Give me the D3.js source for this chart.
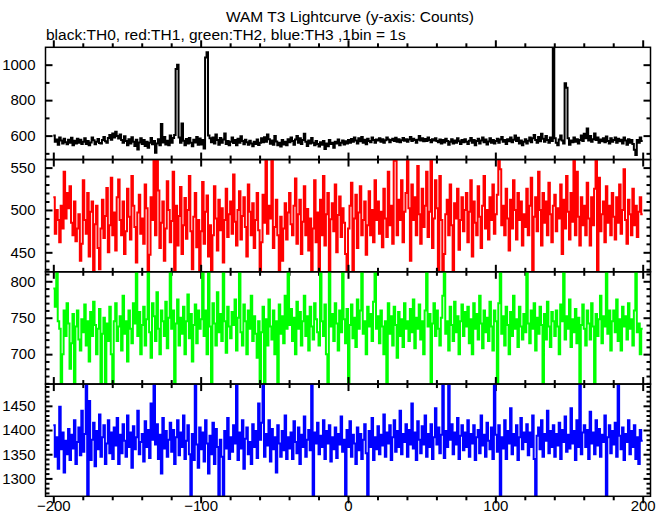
<!DOCTYPE html>
<html><head><meta charset="utf-8">
<script src="https://cdn.jsdelivr.net/npm/d3@7"></script>
<style>body{margin:0;background:#fff}text{font-family:"Liberation Sans",Arial,Helvetica,sans-serif}</style>
</head><body>
<svg id="c" width="669" height="515"></svg>
<script>
const titleText = "WAM T3 Lightcurve (y-axis: Counts)";
const subtitleText = "black:TH0, red:TH1, green:TH2, blue:TH3 ,1bin = 1s";
const timeStart = -200;
const xTickLabels = [-200, -100, 0, 100, 200];

const th0 = [
600,565,578,548,590,572,556,583,562,551,577,560,588,546,571,555,582,560,576,552,
566,585,553,570,546,561,590,574,551,566,581,559,556,575,592,568,560,586,604,577,
612,590,622,598,584,606,575,560,596,570,546,580,555,591,566,541,576,522,561,585,
552,575,541,566,532,560,586,551,570,503,556,580,546,665,561,592,550,571,546,601,
560,586,604,975,1000,589,560,668,571,546,581,555,587,560,540,576,561,592,548,584,
550,575,528,1040,1070,600,585,562,590,555,606,575,548,586,560,578,612,552,570,545,
565,590,558,575,545,583,560,596,570,551,576,562,548,571,556,540,566,552,578,547,
560,585,562,591,566,606,580,554,572,548,598,567,545,560,538,575,550,566,545,580,
562,590,570,548,578,598,560,585,553,575,610,566,542,572,556,587,560,545,570,552,
538,562,548,570,524,556,540,575,552,560,531,566,555,578,546,560,572,550,568,556,
575,560,581,566,590,572,556,585,568,592,560,576,551,583,570,562,589,575,560,578,
572,585,566,580,560,574,590,578,562,575,583,570,588,566,579,562,574,586,571,580,
565,578,592,570,583,575,560,576,598,572,585,568,581,570,590,575,563,580,572,585,
570,562,578,556,575,561,583,570,548,566,579,555,572,560,585,568,553,575,562,580,
566,552,571,586,560,575,545,569,582,556,573,590,562,578,550,567,585,560,575,555,
570,583,560,578,592,566,575,552,580,568,590,562,577,600,570,588,556,572,545,565,
580,556,571,590,562,585,604,575,560,592,568,610,583,566,598,575,560,590,570,1150,
585,560,545,578,600,572,555,895,870,585,548,572,562,590,566,580,556,575,600,570,
610,585,640,572,598,565,580,612,575,590,560,578,568,585,562,595,570,556,585,566,
575,590,560,582,568,576,555,590,572,548,580,560,575,552,520,490,575,560,590,570];

const th1 = [
515,472,500,488,462,505,478,545,490,520,502,528,485,470,510,463,478,495,440,460,
535,488,472,520,445,498,510,420,483,505,455,430,478,512,467,493,526,450,482,538,
470,497,452,515,536,488,470,510,448,475,525,492,465,540,505,480,438,497,518,472,
490,460,530,502,420,447,515,488,560,470,565,523,455,485,510,440,478,534,500,462,
487,545,420,505,458,493,527,448,482,514,466,500,540,475,430,492,520,456,488,420,
475,533,460,498,517,445,482,420,470,528,490,452,512,476,502,438,488,525,468,495,
510,472,542,486,458,500,522,465,493,515,480,445,530,498,470,508,455,488,520,476,
420,462,518,485,560,472,505,490,565,455,480,512,470,420,492,440,478,508,465,497,
520,483,470,505,537,460,495,512,448,486,528,470,501,452,490,420,478,535,462,497,
420,512,470,540,458,495,520,420,489,508,475,530,450,494,516,468,502,485,448,420,
478,505,532,420,490,518,455,497,528,470,488,510,447,482,522,470,500,462,535,488,
510,472,498,456,525,490,468,545,482,505,460,565,558,470,512,488,535,462,498,520,
565,502,440,530,488,515,470,552,495,460,525,480,505,545,468,498,565,455,490,535,
502,420,540,488,420,448,495,512,470,530,482,420,508,490,525,453,488,515,475,500,
520,462,498,535,445,510,485,470,528,492,455,505,540,478,500,465,515,488,530,472,
495,518,565,548,482,505,470,525,490,452,512,478,535,500,465,520,488,510,458,495,
480,525,470,505,538,420,492,515,475,545,500,458,520,485,510,470,532,495,462,505,
518,475,502,490,530,448,512,478,540,498,465,520,486,565,470,545,492,458,515,482,
505,470,532,490,458,515,482,525,565,420,538,475,495,510,462,528,485,505,470,520,
492,465,515,485,530,472,500,548,488,460,512,495,470,525,482,505,468,498,515,495];

const th2 = [
790,765,820,745,735,650,700,760,725,770,742,680,715,755,650,738,760,720,705,748,
730,768,712,745,690,758,725,772,740,700,735,762,650,728,750,650,742,718,765,700,
650,745,770,718,738,752,705,780,728,745,690,760,735,715,770,742,820,725,758,700,
740,765,712,748,820,730,695,770,752,718,785,735,700,760,745,725,772,708,750,820,
735,760,650,742,775,712,750,728,765,700,745,782,722,755,690,740,768,715,760,735,
748,820,725,760,700,820,738,650,770,742,712,785,730,755,718,820,745,702,765,738,
722,758,740,775,705,750,820,730,712,768,745,700,760,735,780,718,752,728,695,745,
650,730,765,650,748,712,775,738,720,760,700,745,650,768,728,752,715,780,735,820,
740,762,718,750,700,772,735,758,712,745,780,725,752,705,765,738,720,770,748,730,
712,820,745,725,768,700,650,820,738,755,718,770,742,705,760,730,820,748,715,762,
650,740,768,722,750,710,775,735,760,820,728,745,700,765,738,755,718,772,820,735,
752,715,760,738,700,745,650,770,728,752,712,765,740,695,758,725,748,710,770,735,
745,718,762,730,775,708,750,735,768,720,745,700,760,820,738,755,650,742,770,725,
760,735,712,750,780,820,728,745,705,765,740,718,772,730,752,700,745,768,725,758,
738,765,715,748,700,770,735,755,720,780,742,708,760,730,750,718,772,738,705,760,
745,650,770,820,728,752,712,765,740,700,758,725,780,735,748,710,765,738,720,755,
730,820,742,715,760,735,770,705,750,728,765,740,650,755,720,772,738,710,758,745,
725,760,738,700,768,745,820,720,752,735,775,710,748,730,762,715,750,650,740,768,
735,712,760,742,720,770,738,650,755,725,748,780,715,752,738,820,728,760,705,745,
760,730,775,718,748,705,765,738,752,720,770,735,748,712,760,820,730,742,700,735];

const th3 = [
1410,1345,1385,1320,1448,1360,1395,1312,1378,1350,1402,1338,1390,1362,1420,1330,1375,1405,1348,1440,
1355,1392,1510,1250,1460,1338,1380,1415,1325,1398,1360,1432,1345,1385,1410,1330,1372,1420,1352,1395,
1340,1405,1368,1425,1330,1390,1352,1412,1378,1345,1430,1365,1395,1322,1408,1360,1385,1440,1350,1375,
1392,1335,1418,1365,1400,1342,1455,1380,1510,1370,1412,1340,1390,1310,1425,1362,1398,1345,1380,1415,
1355,1400,1330,1385,1420,1348,1395,1365,1430,1340,1378,1410,1350,1250,1392,1338,1510,1370,1322,1405,
1360,1395,1335,1420,1372,1310,1388,1350,1415,1330,1402,1365,1250,1380,1345,1250,1398,1362,1425,1340,
1385,1355,1410,1372,1510,1338,1395,1362,1420,1320,1382,1405,1350,1375,1330,1412,1365,1398,1342,1455,
1380,1415,1510,1345,1392,1368,1420,1335,1402,1360,1385,1312,1410,1372,1345,1398,1358,1430,1340,1385,
1362,1395,1340,1418,1375,1352,1405,1330,1390,1365,1428,1345,1380,1400,1358,1510,1250,1395,1372,1415,
1350,1388,1365,1420,1340,1398,1372,1410,1335,1385,1360,1405,1342,1392,1370,1428,1355,1380,1250,1400,
1365,1418,1345,1390,1372,1330,1405,1358,1392,1340,1380,1412,1352,1250,1398,1365,1425,1338,1385,1360,
1408,1350,1390,1368,1432,1345,1395,1372,1410,1338,1385,1420,1355,1398,1365,1440,1350,1392,1375,1412,
1345,1400,1370,1455,1362,1395,1338,1418,1380,1352,1408,1370,1430,1345,1392,1365,1412,1340,1385,1445,
1370,1405,1352,1390,1510,1342,1398,1365,1510,1380,1412,1350,1395,1370,1425,1340,1388,1410,1358,1395,
1365,1420,1345,1392,1372,1410,1338,1385,1400,1352,1430,1368,1390,1345,1415,1378,1360,1405,1340,1510,
1390,1355,1410,1250,1385,1362,1420,1340,1398,1372,1445,1350,1392,1368,1410,1338,1385,1425,1360,1395,
1375,1412,1348,1395,1365,1430,1340,1250,1388,1405,1360,1420,1345,1392,1378,1440,1352,1398,1365,1410,
1345,1392,1368,1415,1340,1400,1375,1428,1355,1390,1362,1445,1372,1398,1338,1420,1365,1510,1350,1395,
1410,1365,1400,1340,1438,1372,1395,1350,1420,1368,1402,1345,1390,1375,1430,1250,1385,1410,1352,1398,
1370,1415,1345,1510,1388,1360,1405,1338,1392,1375,1420,1350,1398,1365,1410,1340,1385,1330,1400,1378];

const seriesValues = [th0, th1, th2, th3];
const seriesColors = ["#000000", "#ff0000", "#00ff00", "#0000ff"];
const yDomains = [[465, 1098], [427, 559.5], [659, 813], [1263, 1495]];
const yTickLabels = [[600, 800, 1000], [450, 500, 550], [700, 750, 800], [1300, 1350, 1400, 1450]];
const yMinorSteps = [100, 10, 10, 10];

const svg = d3.select("#c");
const FONT = '"Liberation Sans",Arial,sans-serif';
const L = 45.5, R = 650.5, T = 47.3, B = 496.3;
const ph = (B - T) / 4;
const x = d3.scaleLinear().domain([-205.3, 205.3]).range([L, R]);

svg.append("text").attr("x", 350).attr("y", 22).attr("text-anchor", "middle")
  .attr("font-size", 15.5).text(titleText);
svg.append("text").attr("x", 46).attr("y", 40).attr("text-anchor", "start")
  .attr("font-size", 15.5).text(subtitleText);

const xMinor = d3.range(-200, 201, 20);

seriesValues.forEach((vals, k) => {
  const top = T + k * ph, bot = top + ph;
  const y = d3.scaleLinear().domain(yDomains[k]).range([bot, top]);
  const g = svg.append("g");
  const cid = "clip" + k;
  svg.append("clipPath").attr("id", cid).append("rect")
    .attr("x", L).attr("y", top).attr("width", R - L).attr("height", ph);
  const pts = vals.map((v, i) => [timeStart + i, v]);
  pts.push([timeStart + vals.length, vals[vals.length - 1]]);
  const line = d3.line().x(d => x(d[0])).y(d => y(d[1])).curve(d3.curveStepAfter);
  g.append("path").attr("d", line(pts)).attr("fill", "none")
    .attr("stroke", seriesColors[k]).attr("stroke-width", 2)
    .attr("stroke-linejoin", "miter")
    .attr("clip-path", `url(#${cid})`);

  const [d0, d1] = yDomains[k];
  const step = yMinorSteps[k];
  const minor = d3.range(Math.ceil(d0 / step) * step, d1, step).filter(v => !yTickLabels[k].includes(v));
  const axL = d3.axisLeft(y).tickValues(minor).tickSize(-4).tickFormat("");
  const axR = d3.axisRight(y).tickValues(minor).tickSize(-4).tickFormat("");
  const axLM = d3.axisLeft(y).tickValues(yTickLabels[k]).tickSize(-7).tickPadding(10).tickFormat(d3.format("d"));
  const axRM = d3.axisRight(y).tickValues(yTickLabels[k]).tickSize(-7).tickFormat("");
  [[axL, L], [axR, R], [axLM, L], [axRM, R]].forEach(([ax, px]) => {
    const a = g.append("g").attr("transform", `translate(${px},0)`).call(ax);
    a.select(".domain").remove();
    a.selectAll("line").attr("stroke", "#000").attr("stroke-width", 2);
    a.selectAll("text").attr("font-size", 15).attr("fill", "#000").style("font-family", FONT);
  });

  const xm = xMinor.filter(v => v % 100 !== 0);
  const xM = xMinor.filter(v => v % 100 === 0);
  const xs = [
    [d3.axisTop(x).tickValues(xm).tickSize(-4).tickFormat(""), bot],
    [d3.axisTop(x).tickValues(xM).tickSize(-7).tickFormat(""), bot],
    [d3.axisBottom(x).tickValues(xm).tickSize(-4).tickFormat(""), top],
    [d3.axisBottom(x).tickValues(xM).tickSize(-7).tickFormat(""), top]
  ];
  xs.forEach(([ax, py]) => {
    const a = g.append("g").attr("transform", `translate(0,${py})`).call(ax);
    a.select(".domain").remove();
    a.selectAll("line").attr("stroke", "#000").attr("stroke-width", 2);
  });
  g.append("rect").attr("x", L).attr("y", top).attr("width", R - L).attr("height", ph)
    .attr("fill", "none").attr("stroke", "#000").attr("stroke-width", 1.5);

  if (k === 3) {
    const ax = d3.axisBottom(x).tickValues(xTickLabels).tickSize(0).tickPadding(4)
      .tickFormat(d3.format("d"));
    const a = svg.append("g").attr("transform", `translate(0,${B})`).call(ax);
    a.select(".domain").remove();
    a.selectAll("text").attr("font-size", 15).attr("fill", "#000").style("font-family", FONT);
  }
});
</script>
</body></html>
